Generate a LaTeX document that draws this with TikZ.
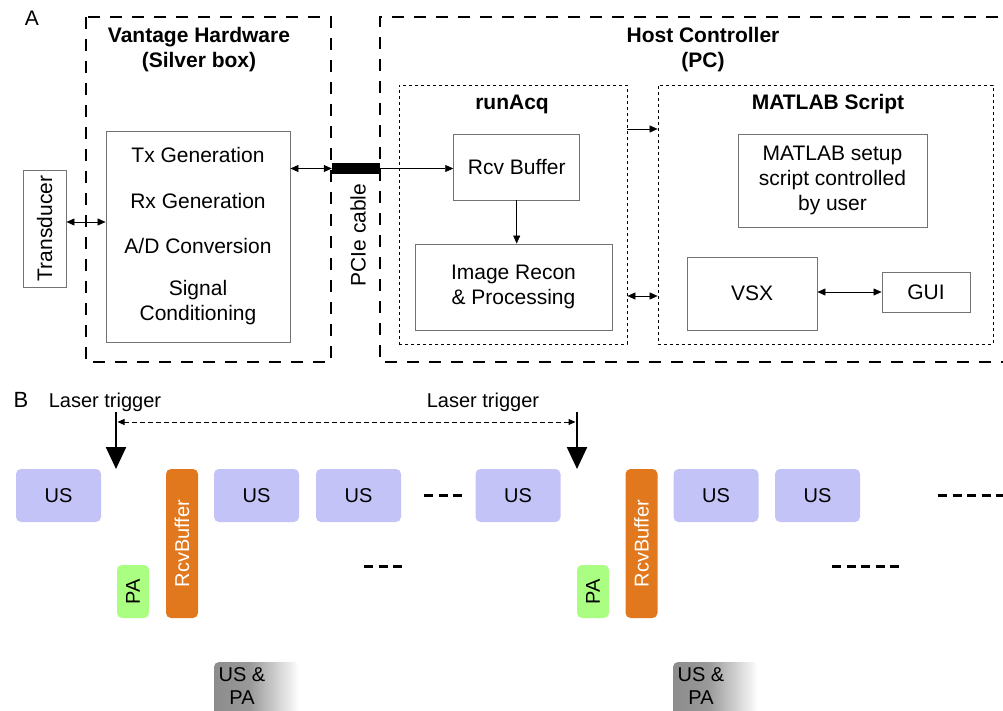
\documentclass[tikz,border=0pt]{standalone}
\usepackage{fontspec}
\setmainfont{Liberation Sans}
\usetikzlibrary{arrows.meta,positioning}
\definecolor{uscol}{RGB}{195,195,248}
\definecolor{rcvcol}{RGB}{226,120,30}
\definecolor{pacol}{RGB}{170,255,130}
\pgfdeclarehorizontalshading{mixshade}{100bp}{color(0bp)=(black!45); color(25bp)=(black!45); color(46bp)=(black!40); color(75bp)=(white); color(100bp)=(white)}
\newcommand{\txtA}{\fontsize{21}{25}\selectfont}
\newcommand{\txtB}{\fontsize{20}{23}\selectfont}

\begin{document}
\begin{tikzpicture}[x=1pt,y=-1pt,font=\txtA,
	box/.style={draw=black!55,line width=0.9pt,inner sep=0pt,align=center},
	hwframe/.style={draw,line width=1.8pt,dash pattern=on 12pt off 10pt},
	swframe/.style={draw,line width=0.8pt,dash pattern=on 3pt off 3pt,inner sep=0pt},
	arr/.style={-{Triangle[length=8pt,width=7pt]},line width=0.6pt},
	dblarr/.style={{Triangle[length=8pt,width=7pt]}-{Triangle[length=8pt,width=7pt]},line width=0.6pt},
	usbox/.style={fill=uscol,rounded corners=5pt,minimum width=85,minimum height=53,inner sep=0pt,font=\txtB},
	rcvbox/.style={fill=rcvcol,rounded corners=5pt,minimum width=149,minimum height=32,inner sep=0pt,rotate=90,text=white,font=\txtB},
	pabox/.style={fill=pacol,rounded corners=5pt,minimum width=53,minimum height=32,inner sep=0pt,rotate=90,font=\txtB},
	mixbox/.style={shading=mixshade,rounded corners=5pt,minimum width=85,minimum height=60,inner sep=0pt},
	gap/.style={line width=3pt,dash pattern=on 9pt off 5.5pt},
	trig/.style={line width=2.4pt,-{Triangle[length=22pt,width=20pt]}}]
	\useasboundingbox (0,0) rectangle (1003,711);

	% Teil A
	\node (labA) at (32,18) {A};
	\draw[hwframe] (86,17) rectangle (331,362);
	\draw[hwframe] (1020,17) -- (380,17) -- (380,362) -- (1020,362);
	\node[font=\txtA\bfseries,align=center] (hwtitle) at (199,50) {Vantage Hardware\\(Silver box)};
	\node[font=\txtA\bfseries,align=center] (pctitle) at (703,50) {Host Controller\\(PC)};

	% Hardware
	\node[box,minimum width=117,minimum height=43,rotate=90] (trans) at (44.5,228.5) {Transducer};
	\node[box,minimum width=184,minimum height=211] (hwbox) at (198,236.5)
		{Tx Generation\\[21pt]Rx Generation\\[20pt]A/D Conversion\\[17pt]Signal\\Conditioning};
	\node[fill=black,minimum width=48,minimum height=11,inner sep=0pt] (pcie) at (356,168.5) {};
	\node[rotate=90] (pcielbl) at (358,235) {PCIe cable};

	% Software
	\node[swframe,minimum width=228,minimum height=259] (runacq) at (513,214.5) {};
	\node[font=\txtA\bfseries] (runacqlbl) at (512,104) {runAcq};
	\node[swframe,minimum width=335,minimum height=259] (matlab) at (825.5,214.5) {};
	\node[font=\txtA\bfseries] (matlablbl) at (828,104) {MATLAB Script};
	\node[box,minimum width=126,minimum height=66] (rcv) at (516.7,167) {Rcv Buffer};
	\node[box,minimum width=197,minimum height=86] (recon) at (513.5,287) {Image Recon\\\& Processing};
	\node[box,minimum width=189,minimum height=93] (setup) at (832.5,180.5) {MATLAB setup\\script controlled\\by user};
	\node[box,minimum width=130,minimum height=73] (vsx) at (752,293.5) {VSX};
	\node[box,minimum width=88,minimum height=40] (gui) at (926,292) {GUI};

	% Pfeile
	\draw[dblarr] (trans.south |- 0,222) -- (hwbox.west |- 0,222);
	\draw[dblarr] (hwbox.east |- pcie) -- (pcie.west);
	\draw[arr] (pcie.east) -- (pcie.east -| rcv.west);
	\draw[arr] (rcv.south) -- (rcv.south |- recon.north);
	\draw[arr] (runacq.east |- 0,129) -- (matlab.west |- 0,129);
	\draw[dblarr] (runacq.east |- 0,296) -- (matlab.west |- 0,296);
	\draw[dblarr] (vsx.east |- gui) -- (gui.west);

	% Teil B
	\node[font=\fontsize{22}{25}\selectfont] (labB) at (21,400) {B};
	\node[font=\txtB] (trig1lbl) at (105,402) {Laser trigger};
	\node[font=\txtB] (trig2lbl) at (483,402) {Laser trigger};
	\coordinate (t1top) at (116,412);
	\coordinate (t1tip) at (116,469);
	\coordinate (t2top) at (577,412);
	\coordinate (t2tip) at (577,469);
	\draw[trig] (t1top) -- (t1tip);
	\draw[trig] (t2top) -- (t2tip);
	\draw[{Triangle[length=7pt,width=6pt]}-{Triangle[length=7pt,width=6pt]},line width=1pt,dash pattern=on 5pt off 3pt]
		([xshift=1.5pt]t1top |- 0,422) -- ([xshift=-1.5pt]t2top |- 0,422);

	% Bloecke
	\node[usbox] (us1) at (58.5,495.5) {US};
	\node[usbox] (us2) at (256.5,495.5) {US};
	\node[usbox] (us3) at (358.5,495.5) {US};
	\node[usbox] (us4) at (518,495.5) {US};
	\node[usbox] (us5) at (716,495.5) {US};
	\node[usbox] (us6) at (817.5,495.5) {US};
	\node[rcvbox] (rcv1) at (182,543.5) {RcvBuffer};
	\node[rcvbox] (rcv2) at (641.5,543.5) {RcvBuffer};
	\node[pabox] (pa1) at (133,591.5) {PA};
	\node[pabox] (pa2) at (593,591.5) {PA};
	\node[mixbox] (mix1) at (256.5,692) {};
	\node[mixbox] (mix2) at (715.5,692) {};
	\node[font=\txtB,align=center] (mix1lbl) at (242,686.5) {US \&\\PA};
	\node[font=\txtB,align=center] (mix2lbl) at (701,686.5) {US \&\\PA};

	% Luecken
	\draw[gap] (424,495) -- (463,495);
	\draw[gap] (364,566) -- (403,566);
	\draw[gap] (832,566) -- (899,566);
	\draw[gap] (938,495) -- (1010,495);
\end{tikzpicture}
\end{document}
